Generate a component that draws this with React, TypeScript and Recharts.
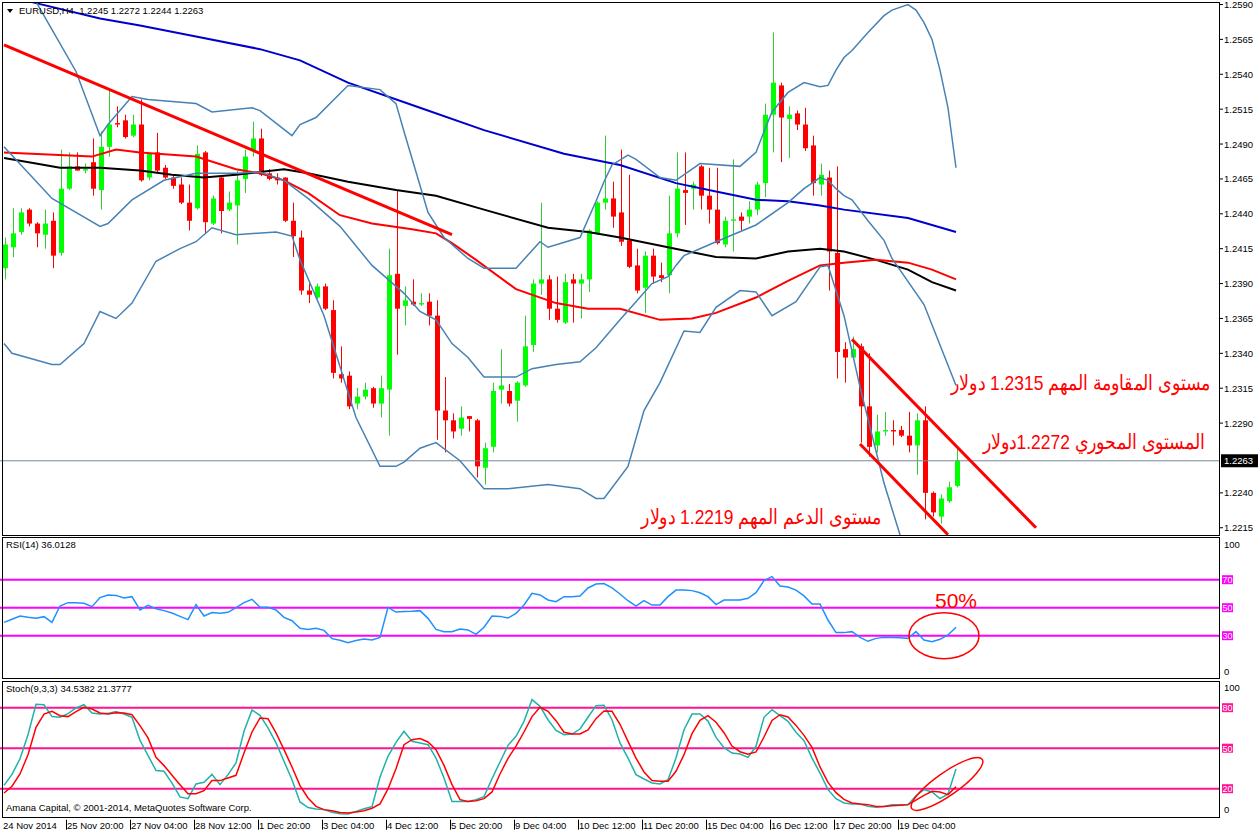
import React from "react";
import {
  ComposedChart,
  Bar,
  Line,
  XAxis,
  YAxis,
  ReferenceLine,
  ReferenceDot,
} from "recharts";

// EURUSD H4, one entry per bar, oldest first
const open = [
  1.2401, 1.2416, 1.2427, 1.2443, 1.2433, 1.2425, 1.2435, 1.2412, 1.2458, 1.2474,
  1.2471, 1.2477, 1.2457, 1.2488, 1.2505, 1.2507, 1.2496, 1.2504, 1.2466, 1.2484,
  1.2473, 1.2466, 1.2461, 1.2448, 1.2444, 1.2484, 1.2433, 1.2466, 1.2443, 1.2446,
  1.2465, 1.2485, 1.2494, 1.2469, 1.2466, 1.2466, 1.2435, 1.2423, 1.2385, 1.238,
  1.2388, 1.2371, 1.2325, 1.2324, 1.2304, 1.2309, 1.2315, 1.2304, 1.2314, 1.2397,
  1.2374, 1.2377, 1.2375, 1.2377, 1.2367, 1.2299, 1.2292, 1.2286, 1.2295, 1.2292,
  1.2258, 1.2273, 1.2314, 1.2313, 1.2306, 1.2317, 1.2346, 1.239, 1.2393, 1.2372,
  1.2362, 1.2393, 1.239, 1.2393, 1.2426, 1.2448, 1.2451, 1.2441, 1.2421, 1.2403,
  1.2387, 1.241, 1.2396, 1.2396, 1.2426, 1.2457, 1.2458, 1.2474, 1.2453, 1.2443,
  1.2418, 1.2435, 1.2438, 1.2438, 1.2443, 1.2462, 1.2511, 1.2532, 1.2508, 1.2512,
  1.2504, 1.2489, 1.2461, 1.2466, 1.2412, 1.2343, 1.2337, 1.2345, 1.2302, 1.2274,
  1.2284, 1.2285, 1.2285, 1.2281, 1.2274, 1.2292, 1.224, 1.2223, 1.2234, 1.2245,
];
const high = [
  1.2423, 1.2444, 1.2444, 1.2444, 1.2434, 1.2443, 1.2441, 1.2486, 1.2484, 1.2484,
  1.2476, 1.2494, 1.2499, 1.2529, 1.2517, 1.2511, 1.2511, 1.2522, 1.2483, 1.2498,
  1.2475, 1.2468, 1.2466, 1.2461, 1.2489, 1.2485, 1.2453, 1.2467, 1.2456, 1.2471,
  1.2486, 1.2506, 1.2501, 1.2472, 1.2469, 1.2466, 1.2448, 1.2428, 1.239, 1.239,
  1.239, 1.2378, 1.2345, 1.2327, 1.2315, 1.2319, 1.2316, 1.2324, 1.2415, 1.2457,
  1.2388, 1.2393, 1.2383, 1.2383, 1.2378, 1.2323, 1.2297, 1.2302, 1.2295, 1.2293,
  1.2276, 1.2319, 1.2343, 1.2318, 1.232, 1.2367, 1.2393, 1.2448, 1.2396, 1.2395,
  1.2397, 1.2397, 1.2397, 1.2429, 1.2449, 1.2496, 1.2463, 1.2486, 1.2468, 1.2415,
  1.2413, 1.2415, 1.2405, 1.2453, 1.2484, 1.2484, 1.2463, 1.2475, 1.2473, 1.2473,
  1.2438, 1.2479, 1.2441, 1.2449, 1.2463, 1.2519, 1.257, 1.2534, 1.2517, 1.2514,
  1.2516, 1.2496, 1.2476, 1.2471, 1.2474, 1.2348, 1.2352, 1.2347, 1.234, 1.2296,
  1.2298, 1.2292, 1.2288, 1.2298, 1.2297, 1.2302, 1.2241, 1.2239, 1.2248, 1.2272,
];
const low = [
  1.2393, 1.2409, 1.2425, 1.2431, 1.2416, 1.2415, 1.2401, 1.241, 1.2457, 1.2471,
  1.2469, 1.2453, 1.2443, 1.2481, 1.2502, 1.2494, 1.2495, 1.2463, 1.2464, 1.247,
  1.2465, 1.2458, 1.2447, 1.2428, 1.2443, 1.2426, 1.2432, 1.2426, 1.2442, 1.2418,
  1.2455, 1.2481, 1.2467, 1.2464, 1.2461, 1.2434, 1.2409, 1.2382, 1.2376, 1.2379,
  1.2371, 1.2322, 1.2319, 1.23, 1.23, 1.2307, 1.2301, 1.2294, 1.2281, 1.2339,
  1.236, 1.2374, 1.2374, 1.236, 1.2278, 1.2269, 1.2279, 1.2281, 1.2284, 1.2251,
  1.2246, 1.2269, 1.2304, 1.2302, 1.2291, 1.2316, 1.2341, 1.2382, 1.2364, 1.2362,
  1.2361, 1.2362, 1.2365, 1.2384, 1.2425, 1.2443, 1.243, 1.2417, 1.2401, 1.2383,
  1.2369, 1.239, 1.2391, 1.2383, 1.2423, 1.2432, 1.2443, 1.2443, 1.2433, 1.2418,
  1.2416, 1.2413, 1.2428, 1.2433, 1.2439, 1.2452, 1.2484, 1.2477, 1.248, 1.25,
  1.2485, 1.2453, 1.2453, 1.2385, 1.2322, 1.2319, 1.2337, 1.2276, 1.2266, 1.2269,
  1.2281, 1.2274, 1.228, 1.2269, 1.2253, 1.2221, 1.2223, 1.2218, 1.2233, 1.2244,
];
const close = [
  1.2418, 1.2426, 1.2441, 1.2433, 1.2426, 1.2433, 1.241, 1.2458, 1.2474, 1.2471,
  1.2472, 1.2458, 1.2488, 1.2504, 1.2504, 1.2495, 1.2504, 1.2464, 1.2483, 1.2471,
  1.2466, 1.246, 1.2448, 1.2435, 1.2483, 1.2434, 1.2451, 1.2442, 1.2448, 1.2464,
  1.2481, 1.2494, 1.2468, 1.2465, 1.2464, 1.2435, 1.2424, 1.2385, 1.2382, 1.2388,
  1.2372, 1.2326, 1.2322, 1.2302, 1.2309, 1.2314, 1.2304, 1.2315, 1.2396, 1.2372,
  1.2378, 1.2375, 1.2376, 1.2367, 1.2299, 1.2292, 1.2284, 1.2294, 1.2293, 1.2259,
  1.2272, 1.2313, 1.2317, 1.2304, 1.2319, 1.2345, 1.239, 1.2393, 1.2372, 1.2364,
  1.2391, 1.239, 1.2393, 1.2428, 1.2448, 1.2451, 1.2438, 1.242, 1.2402, 1.2385,
  1.241, 1.2395, 1.2394, 1.2426, 1.2458, 1.2455, 1.2461, 1.2453, 1.2443, 1.2419,
  1.2435, 1.2436, 1.2435, 1.2443, 1.2461, 1.2511, 1.2534, 1.2509, 1.2511, 1.2504,
  1.2487, 1.2462, 1.2468, 1.2413, 1.2341, 1.2337, 1.2343, 1.2302, 1.2273, 1.2284,
  1.2285, 1.2284, 1.2281, 1.2274, 1.2292, 1.224, 1.2226, 1.2236, 1.2244, 1.2263,
];

// indicator lines, read as [bar, price]
const blueMa = [
  [0, 1.2597], [4, 1.2591], [12, 1.258], [17, 1.2575], [24, 1.2567], [32, 1.2558],
  [37, 1.255], [43, 1.2534], [52, 1.2516], [60, 1.25], [70, 1.2483], [77, 1.2475],
  [84, 1.2462], [89, 1.2456], [94, 1.245], [98, 1.2449], [102, 1.2446], [105, 1.2443],
  [113, 1.2437], [119, 1.2427],
];
const blackMa = [
  [0, 1.248], [4, 1.2476], [7, 1.2473], [12, 1.2473], [17, 1.2471], [21, 1.2468],
  [25, 1.2466], [29, 1.2468], [32, 1.247], [35, 1.2472], [38, 1.2469], [43, 1.2463],
  [49, 1.2457], [54, 1.2453], [60, 1.2443], [68, 1.243], [73, 1.2427], [77, 1.2423],
  [83, 1.2416], [89, 1.2409], [94, 1.2408], [98, 1.2413], [102, 1.2415], [105, 1.2413],
  [109, 1.2407], [113, 1.24], [116, 1.2391], [119, 1.2385],
];
const redMa = [
  [0, 1.2484], [11, 1.2481], [14, 1.2486], [17, 1.2484], [24, 1.2481], [29, 1.2472],
  [32, 1.2469], [35, 1.2464], [38, 1.2455], [42, 1.2439], [46, 1.2433], [51, 1.2429],
  [54, 1.2426], [56, 1.2419], [59, 1.2407], [64, 1.2386], [69, 1.2376], [73, 1.2372],
  [77, 1.2372], [82, 1.2364], [86, 1.2365], [89, 1.2369], [94, 1.238], [98, 1.2392],
  [102, 1.2403], [105, 1.2405], [109, 1.2407], [113, 1.2405], [116, 1.24], [119, 1.2393],
];
const bbUpper = [
  [0, 1.2629], [4, 1.2592], [6, 1.2572], [9, 1.2542], [12, 1.2496], [13, 1.2504],
  [16, 1.2524], [18, 1.2522], [24, 1.2519], [26, 1.2513], [31, 1.2516], [32, 1.2514],
  [36, 1.2496], [37, 1.2504], [39, 1.2509], [43, 1.2532], [47, 1.2529], [49, 1.2519],
  [50, 1.2499], [53, 1.2441], [55, 1.2423], [58, 1.2408], [60, 1.2401], [64, 1.2401],
  [67, 1.242], [68, 1.2416], [72, 1.2423], [74, 1.2449], [75, 1.2463], [76, 1.2475],
  [78, 1.2482], [79, 1.2479], [82, 1.2466], [84, 1.2464], [87, 1.2476], [92, 1.2474],
  [94, 1.2484], [95, 1.2499], [96, 1.2513], [98, 1.2527], [100, 1.2534], [102, 1.2531],
  [103, 1.2532], [104, 1.2543], [105, 1.2552], [106, 1.2557], [108, 1.257], [110, 1.2582],
  [111, 1.2586], [113, 1.259], [114, 1.2586], [115, 1.2577], [116, 1.2565], [117, 1.2543],
  [118, 1.2516], [119, 1.2473],
];
const bbMiddle = [
  [0, 1.2488], [6, 1.2451], [12, 1.2431], [13, 1.2433], [16, 1.245], [20, 1.2464],
  [24, 1.2469], [29, 1.2469], [32, 1.247], [35, 1.2464], [38, 1.2451], [42, 1.2431],
  [46, 1.2403], [50, 1.2383], [52, 1.237], [54, 1.2364], [56, 1.2347], [58, 1.2337],
  [60, 1.2323], [64, 1.2323], [66, 1.2329], [69, 1.2332], [72, 1.2334], [74, 1.2344],
  [77, 1.2364], [79, 1.2377], [81, 1.239], [83, 1.2395], [84, 1.2403], [85, 1.241],
  [89, 1.242], [94, 1.2432], [98, 1.2448], [100, 1.2458], [102, 1.2466], [103, 1.2464],
  [104, 1.2458], [105, 1.2453], [106, 1.245], [108, 1.2435], [110, 1.2421], [111, 1.2408],
  [115, 1.2375], [119, 1.2317],
];
const bbLower = [
  [0, 1.2347], [1, 1.234], [6, 1.2332], [7, 1.2332], [10, 1.2347], [12, 1.237],
  [14, 1.2365], [16, 1.2376], [19, 1.2406], [22, 1.2415], [24, 1.242], [26, 1.243],
  [29, 1.2425], [34, 1.2427], [36, 1.2424], [37, 1.2407], [40, 1.2367], [44, 1.2294],
  [47, 1.2259], [49, 1.2259], [50, 1.2262], [52, 1.2272], [54, 1.2276], [57, 1.2263],
  [60, 1.2243], [63, 1.2243], [68, 1.2246], [72, 1.2243], [74, 1.2236], [75, 1.2236],
  [78, 1.2259], [80, 1.2299], [82, 1.2319], [85, 1.2356], [87, 1.2355], [89, 1.2373],
  [92, 1.2385], [94, 1.2384], [96, 1.2367], [99, 1.2377], [102, 1.2402], [103, 1.2403],
  [105, 1.2367], [107, 1.2316], [110, 1.2247], [112, 1.221], [116, 1.2158], [119, 1.2161],
];

// hand-drawn trend line and falling channel
const trendLine = [[0, 1.2561], [56, 1.2425]];
const channelTop = [[106, 1.235], [129, 1.2215]];
const channelBottom = [[107, 1.2275], [118, 1.221]];

const rsi = [
  39.5, 41.7, 44.0, 43.1, 42.4, 43.6, 39.5, 51.2, 53.6, 53.6,
  53.1, 50.7, 57.2, 59.1, 58.8, 56.9, 57.9, 48.4, 51.7, 49.3,
  47.9, 46.2, 43.8, 41.5, 52.2, 44.1, 46.5, 46.0, 46.7, 50.0,
  53.6, 56.0, 50.3, 50.3, 48.4, 43.1, 40.7, 35.3, 34.5, 35.3,
  33.8, 27.9, 26.7, 25.0, 26.5, 27.6, 26.9, 28.8, 50.3, 46.9,
  47.2, 47.4, 47.9, 42.4, 34.5, 32.9, 32.9, 34.8, 34.1, 31.0,
  36.0, 44.1, 43.8, 42.6, 46.0, 51.9, 60.3, 59.1, 55.5, 54.3,
  57.9, 57.9, 58.4, 64.1, 66.9, 67.2, 64.1, 59.8, 55.0, 51.2,
  55.0, 51.9, 51.9, 57.9, 62.6, 62.6, 62.2, 60.7, 57.9, 52.2,
  55.5, 55.5, 55.5, 56.7, 60.7, 69.3, 72.2, 65.5, 64.8, 62.6,
  58.4, 52.6, 52.6, 41.2, 32.2, 32.2, 32.9, 28.8, 26.0, 28.1,
  28.8, 28.8, 28.6, 28.1, 32.9, 26.9, 25.7, 27.4, 30.5, 36.0,
];
const stochMain = [
  22.5, 30.6, 42.2, 60.0, 82.5, 82.2, 73.4, 72.9, 75.6, 79.8,
  82.2, 76.1, 75.3, 75.8, 77.1, 75.3, 72.9, 55.8, 44.7, 33.4,
  32.9, 24.2, 13.9, 12.6, 23.5, 24.7, 30.6, 23.0, 30.4, 39.0,
  62.5, 78.3, 74.3, 65.0, 53.9, 40.3, 26.7, 10.2, 6.0, 5.0,
  4.5, 2.5, 1.5, 1.3, 3.2, 5.2, 6.7, 28.7, 44.0, 54.3,
  62.5, 55.1, 53.9, 52.6, 42.7, 27.9, 10.6, 10.6, 10.6, 11.9,
  14.1, 27.4, 39.8, 52.1, 58.8, 69.9, 86.0, 81.0, 71.1, 63.2,
  60.0, 60.5, 64.2, 72.9, 81.5, 81.8, 71.1, 53.9, 42.7, 30.4,
  27.2, 24.2, 23.5, 26.7, 42.7, 63.7, 75.3, 75.3, 70.1, 58.0,
  50.4, 46.4, 45.7, 43.2, 51.4, 72.9, 78.5, 74.1, 69.9, 61.8,
  55.6, 42.7, 31.6, 19.3, 12.6, 9.4, 8.7, 8.7, 6.9, 6.2,
  6.9, 8.2, 8.2, 8.2, 14.8, 19.3, 17.6, 12.6, 16.1, 34.54,
];
const stochSignal = [
  16.8, 21.8, 30.9, 45.2, 65.5, 75.3, 77.3, 74.1, 73.4, 77.1,
  80.3, 79.0, 76.1, 75.3, 76.3, 76.1, 74.8, 66.7, 57.6, 43.2,
  37.1, 29.9, 23.0, 16.3, 16.3, 18.5, 26.0, 26.0, 27.9, 29.9,
  46.4, 62.0, 72.4, 71.9, 61.3, 48.9, 36.1, 22.3, 13.1, 6.9,
  4.5, 3.7, 2.3, 2.0, 2.7, 3.7, 5.5, 8.7, 19.8, 34.8,
  52.6, 56.3, 57.1, 54.6, 48.9, 37.3, 23.0, 11.9, 10.6, 11.1,
  12.6, 17.6, 30.9, 42.5, 51.6, 62.0, 73.4, 80.3, 77.3, 70.4,
  61.8, 60.5, 60.5, 63.5, 71.9, 77.6, 77.3, 67.7, 55.1, 42.7,
  32.4, 26.0, 25.5, 25.5, 32.9, 45.2, 60.8, 70.6, 74.1, 69.2,
  61.5, 51.6, 47.4, 45.5, 47.2, 58.3, 70.6, 74.8, 73.1, 66.9,
  59.5, 50.6, 36.1, 24.7, 17.1, 12.1, 9.4, 8.7, 8.2, 6.9,
  6.9, 7.4, 7.7, 8.2, 11.6, 15.1, 18.1, 17.6, 15.6, 21.38,
];

const timeTicks = [0, 8, 16, 24, 32, 40, 48, 56, 64, 72, 80, 88, 96, 104, 112];
const timeLabels = [
  "24 Nov 2014", "25 Nov 20:00", "27 Nov 04:00", "28 Nov 12:00", "1 Dec 20:00",
  "3 Dec 04:00", "4 Dec 12:00", "5 Dec 20:00", "9 Dec 04:00", "10 Dec 12:00",
  "11 Dec 20:00", "15 Dec 04:00", "16 Dec 12:00", "17 Dec 20:00", "19 Dec 04:00",
];
const priceTicks = [
  1.2215, 1.224, 1.229, 1.2315, 1.234, 1.2365, 1.239, 1.2415, 1.244, 1.2465,
  1.249, 1.2515, 1.254, 1.2565, 1.259,
];
const lastPrice = 1.2263;
const rsiTicks = [0, 30, 50, 70, 100];
const rsiLevels = [30, 50, 70];
const stochTicks = [0, 20, 50, 80, 100];
const stochLevels = [20, 50, 80];

const SLOTS = 152; // bar slots across the window (the right part is empty space)
const N = close.length;
const FONT = "'Liberation Sans', Arial, sans-serif";

const at = (pts: number[][], i: number) => {
  const p = pts.find((q) => q[0] === i);
  return p ? p[1] : null;
};

const mainRows = Array.from({ length: SLOTS }, (_, i) => ({
  i,
  hl: i < N ? [low[i], high[i]] : null,
  o: i < N ? open[i] : null,
  h: i < N ? high[i] : null,
  l: i < N ? low[i] : null,
  c: i < N ? close[i] : null,
  blue: at(blueMa, i),
  black: at(blackMa, i),
  red: at(redMa, i),
  up: at(bbUpper, i),
  mid: at(bbMiddle, i),
  dn: at(bbLower, i),
  tl: at(trendLine, i),
  ct: at(channelTop, i),
  cb: at(channelBottom, i),
}));

const rsiRows = Array.from({ length: SLOTS }, (_, i) => ({
  i,
  rsi: i < N ? rsi[i] : null,
}));

const stochRows = Array.from({ length: SLOTS }, (_, i) => ({
  i,
  k: i < N ? stochMain[i] : null,
  d: i < N ? stochSignal[i] : null,
}));

const Candle = (props: any) => {
  const { x, y, width, height, payload } = props;
  if (!payload || payload.o == null) return null;
  const { o, h, l, c } = payload;
  const top = Math.min(y, y + height);
  const hgt = Math.abs(height);
  const cx = Math.round(x + width / 2) + 0.5;
  const span = h - l;
  const py = (v: number) => (span > 0 ? top + ((h - v) / span) * hgt : top);
  const bTop = py(Math.max(o, c));
  const bBot = py(Math.min(o, c));
  const up = c >= o;
  return (
    <g>
      <line x1={cx} x2={cx} y1={top} y2={top + hgt} stroke={up ? "#32cd32" : "#ff0000"} strokeWidth={1} />
      <rect x={cx - 2.5} y={bTop} width={5} height={Math.max(bBot - bTop, 1)} fill={up ? "#00ff00" : "#ff0000"} />
    </g>
  );
};

const txt = { fontFamily: FONT, fontSize: 9.5, fill: "#000" };

const PriceTick = (props: any) => {
  const { x, y, payload } = props;
  const v = payload.value;
  if (v === lastPrice) {
    return (
      <g>
        <rect x={x + 2} y={y - 6.5} width={37} height={13} fill="#000" />
        <text x={x + 5} y={y + 3.5} {...txt} fill="#fff">
          {v.toFixed(4)}
        </text>
      </g>
    );
  }
  return (
    <g>
      <line x1={x} x2={x + 4} y1={y} y2={y} stroke="#000" />
      <text x={x + 5} y={y + 3.5} {...txt}>
        {v.toFixed(4)}
      </text>
    </g>
  );
};

const levelTick = (levels: number[], color: string) => (props: any) => {
  const { x, y, payload } = props;
  const v = payload.value;
  if (levels.includes(v)) {
    return (
      <g>
        <rect x={x + 3} y={y - 4.5} width={11} height={9} fill={color} />
        <text x={x + 3.5} y={y + 3.3} {...txt} fontSize={9} fill="#fff">
          {v}
        </text>
      </g>
    );
  }
  const dy = v === 100 ? 6.5 : v === 0 ? -6 : 0;
  return (
    <text x={x + 5} y={y + dy + 3.5} {...txt}>
      {v}
    </text>
  );
};

const TimeTick = (props: any) => {
  const { x, y, payload } = props;
  const k = timeTicks.indexOf(payload.value);
  const sx = Math.round(x) - 2 + 0.5;
  return (
    <g>
      {k > 0 && <line x1={sx} x2={sx} y1={y + 4} y2={y + 14} stroke="#000" />}
      <text x={x - 1} y={y + 13.5} {...txt}>
        {timeLabels[k]}
      </text>
    </g>
  );
};

const label = (left: number, top: number, text: string) => (
  <div
    style={{
      position: "absolute",
      left,
      top,
      fontFamily: FONT,
      fontSize: 9.5,
      lineHeight: "12px",
      color: "#000",
      whiteSpace: "pre",
    }}
  >
    {text}
  </div>
);

// the Arabic fallback face runs wider than the original, so squeeze it horizontally
const note = (right: number, top: number, text: string) => (
  <div
    dir="rtl"
    style={{
      position: "absolute",
      right,
      top,
      fontFamily: FONT,
      fontSize: 21,
      lineHeight: "21px",
      color: "#ff0000",
      whiteSpace: "nowrap",
      transform: "scaleX(0.83)",
      transformOrigin: "right center",
    }}
  >
    {text}
  </div>
);

const frame = (top: number, height: number) => (
  <div
    style={{
      position: "absolute",
      left: 2,
      top,
      width: 1218,
      height,
      border: "1px solid #000",
      boxSizing: "border-box",
      pointerEvents: "none",
    }}
  />
);

const xPad = { left: 0, right: 3 };

export default function App() {
  return (
    <div
      style={{
        position: "absolute",
        left: 0,
        top: 0,
        width: 1258,
        height: 835,
        background: "#fff",
        overflow: "hidden",
      }}
    >
      <div style={{ position: "absolute", left: 0, top: 0 }}>
        <ComposedChart width={1258} height={537} data={mainRows} margin={{ top: 2, right: 0, bottom: 2, left: 0 }}>
          <XAxis dataKey="i" type="category" scale="band" hide padding={xPad} />
          <YAxis
            orientation="right"
            width={39}
            domain={[1.22098, 1.25918]}
            allowDataOverflow
            ticks={[...priceTicks, lastPrice]}
            interval={0}
            tick={<PriceTick />}
            tickLine={false}
            axisLine={false}
            tickSize={0}
            tickMargin={0}
          />
          <ReferenceLine y={lastPrice} stroke="#778899" strokeWidth={1} />
          <Bar dataKey="hl" barSize={5} shape={<Candle />} isAnimationActive={false} />
          <Line dataKey="blue" stroke="#0000cd" strokeWidth={2} dot={false} connectNulls isAnimationActive={false} />
          <Line dataKey="black" stroke="#000000" strokeWidth={2} dot={false} connectNulls isAnimationActive={false} />
          <Line dataKey="red" stroke="#ff0000" strokeWidth={2} dot={false} connectNulls isAnimationActive={false} />
          <Line dataKey="up" stroke="#4682b4" strokeWidth={1.5} dot={false} connectNulls isAnimationActive={false} />
          <Line dataKey="mid" stroke="#4682b4" strokeWidth={1.5} dot={false} connectNulls isAnimationActive={false} />
          <Line dataKey="dn" stroke="#4682b4" strokeWidth={1.5} dot={false} connectNulls isAnimationActive={false} />
          <Line dataKey="tl" stroke="#ff0000" strokeWidth={3} dot={false} connectNulls isAnimationActive={false} />
          <Line dataKey="ct" stroke="#ff0000" strokeWidth={3} dot={false} connectNulls isAnimationActive={false} />
          <Line dataKey="cb" stroke="#ff0000" strokeWidth={3} dot={false} connectNulls isAnimationActive={false} />
        </ComposedChart>
      </div>

      <div style={{ position: "absolute", left: 0, top: 536 }}>
        <ComposedChart width={1258} height={145} data={rsiRows} margin={{ top: 1.7, right: 0, bottom: 3.3, left: 0 }}>
          <XAxis dataKey="i" type="category" scale="band" hide padding={xPad} />
          <YAxis
            orientation="right"
            width={39}
            domain={[0, 100]}
            ticks={rsiTicks}
            interval={0}
            tick={levelTick(rsiLevels, "#ff00ff")}
            tickLine={false}
            axisLine={false}
            tickSize={0}
            tickMargin={0}
          />
          {rsiLevels.map((v) => (
            <ReferenceLine key={v} y={v} stroke="#ff00ff" strokeWidth={2} />
          ))}
          <Line dataKey="rsi" stroke="#1e90ff" strokeWidth={1.5} dot={false} isAnimationActive={false} />
          <ReferenceDot
            x={117}
            y={30}
            shape={(p: any) => (
              <ellipse cx={p.cx + 4} cy={p.cy} rx={35} ry={23} fill="none" stroke="#ff0000" strokeWidth={1.5} />
            )}
          />
          <ReferenceDot
            x={119}
            y={55.5}
            shape={(p: any) => (
              <text x={p.cx} y={p.cy + 7.5} textAnchor="middle" fontFamily={FONT} fontSize={21} fill="#ff0000">
                50%
              </text>
            )}
          />
        </ComposedChart>
      </div>

      <div style={{ position: "absolute", left: 0, top: 679 }}>
        <ComposedChart width={1258} height={156} data={stochRows} margin={{ top: 1.7, right: 0, bottom: 0, left: 0 }}>
          <XAxis
            dataKey="i"
            type="category"
            scale="band"
            padding={xPad}
            ticks={timeTicks}
            interval={0}
            tick={<TimeTick />}
            tickLine={false}
            axisLine={false}
            tickSize={0}
            tickMargin={0}
            height={19.3}
          />
          <YAxis
            orientation="right"
            width={39}
            domain={[0, 100]}
            ticks={stochTicks}
            interval={0}
            tick={levelTick(stochLevels, "#ff1493")}
            tickLine={false}
            axisLine={false}
            tickSize={0}
            tickMargin={0}
          />
          {stochLevels.map((v) => (
            <ReferenceLine key={v} y={v} stroke="#ff1493" strokeWidth={2} />
          ))}
          <Line dataKey="k" stroke="#20b2aa" strokeWidth={1.5} dot={false} isAnimationActive={false} />
          <Line dataKey="d" stroke="#ff0000" strokeWidth={1.5} dot={false} isAnimationActive={false} />
          <ReferenceDot
            x={118}
            y={23.5}
            shape={(p: any) => (
              <ellipse
                cx={p.cx - 1}
                cy={p.cy}
                rx={43}
                ry={11.5}
                fill="none"
                stroke="#ff0000"
                strokeWidth={1.5}
                transform={`rotate(-35 ${p.cx - 1} ${p.cy})`}
              />
            )}
          />
        </ComposedChart>
      </div>

      {frame(2, 534)}
      {frame(537, 142)}
      {frame(681, 137)}

      <div
        style={{
          position: "absolute",
          left: 7,
          top: 9,
          width: 0,
          height: 0,
          borderLeft: "3.5px solid transparent",
          borderRight: "3.5px solid transparent",
          borderTop: "4px solid #000",
        }}
      />
      {label(19, 5, "EURUSD,H4  1.2245 1.2272 1.2244 1.2263")}
      {label(6, 539, "RSI(14) 36.0128")}
      {label(6, 683, "Stoch(9,3,3) 34.5382 21.3777")}
      {label(6, 802, "Amana Capital, © 2001-2014, MetaQuotes Software Corp.")}

      {note(1258 - 1211, 372, "مستوى المقاومة المهم 1.2315 دولار")}
      {note(1258 - 1205, 431, "المستوى المحوري 1.2272دولار")}
      {note(1258 - 882, 506, "مستوى الدعم المهم 1.2219 دولار")}
    </div>
  );
}
